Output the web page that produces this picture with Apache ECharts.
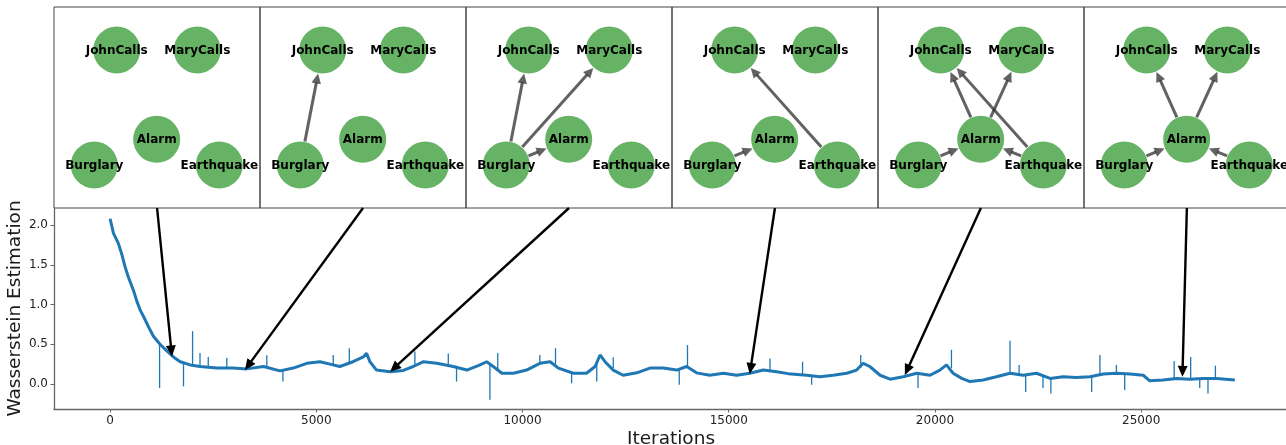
<!DOCTYPE html>
<html><head><meta charset="utf-8">
<script src="https://cdn.jsdelivr.net/npm/echarts@6/dist/echarts.min.js"></script>
<style>html,body{margin:0;padding:0;background:#fff}#c{width:1286px;height:445px}</style>
</head><body><div id="c"></div>
<script>
// ---- data ----
const iterations = [
  0, 25, 80, 200, 280, 360, 440, 565, 650, 730,
  810, 930, 1050, 1210, 1370, 1535, 1700, 1940, 2180, 2590,
  2990, 3310, 3720, 4120, 4440, 4770, 5090, 5330, 5570, 5890,
  6140, 6220, 6300, 6460, 6790, 7110, 7350, 7600, 7920, 8320,
  8650, 8970, 9130, 9290, 9500, 9780, 10100, 10420, 10670, 10870,
  11230, 11550, 11760, 11880, 12000, 12200, 12440, 12770, 13090, 13410,
  13740, 13980, 14220, 14540, 14870, 15190, 15510, 15840, 16160, 16440,
  16890, 17210, 17530, 17860, 18100, 18260, 18420, 18670, 18910, 19230,
  19560, 19880, 20120, 20280, 20440, 20650, 20850, 21170, 21490, 21820,
  22140, 22460, 22790, 23110, 23430, 23760, 24080, 24400, 24730, 25050,
  25210, 25530, 25860, 26180, 26500, 26830, 27270
];
const wasserstein = [
  2.08, 2.06, 1.9, 1.77, 1.64, 1.48, 1.35, 1.18, 1.04, 0.93,
  0.85, 0.72, 0.6, 0.5, 0.42, 0.34, 0.28, 0.24, 0.22, 0.2,
  0.2, 0.19, 0.22, 0.165, 0.2, 0.26, 0.28, 0.25, 0.22, 0.28,
  0.34, 0.385, 0.28, 0.175, 0.155, 0.17, 0.22, 0.28, 0.26, 0.22,
  0.175, 0.24, 0.28, 0.22, 0.135, 0.135, 0.175, 0.26, 0.28, 0.2,
  0.135, 0.135, 0.22, 0.365, 0.28, 0.175, 0.11, 0.14, 0.2, 0.2,
  0.175, 0.22, 0.14, 0.11, 0.135, 0.11, 0.135, 0.175, 0.155, 0.13,
  0.11, 0.09, 0.11, 0.135, 0.175, 0.26, 0.22, 0.11, 0.06, 0.09,
  0.135, 0.11, 0.175, 0.24, 0.135, 0.07, 0.03, 0.05, 0.09, 0.135,
  0.11, 0.135, 0.07, 0.09, 0.08, 0.09, 0.125, 0.135, 0.125, 0.11,
  0.04, 0.05, 0.07, 0.06, 0.07, 0.07, 0.05
];
// isolated single-sample spikes: iteration, band level, spike tip
const spikeIters = [1200, 1780, 2000, 2180, 2380, 2830, 3800, 4190, 5410, 5800,
  7390, 8200, 8400, 9210, 9400, 10420, 10800, 11190, 11800, 12200,
  13800, 14000, 16000, 16790, 17010, 18200, 19590, 20400, 21820, 22040,
  22200, 22620, 22810, 23800, 24000, 24400, 24600, 25800, 26200, 26420,
  26620, 26800];
const spikeBase = [0.5, 0.27, 0.23, 0.22, 0.21, 0.2, 0.21, 0.17, 0.24, 0.25,
  0.22, 0.23, 0.21, 0.25, 0.18, 0.26, 0.22, 0.14, 0.25, 0.2,
  0.18, 0.2, 0.16, 0.11, 0.1, 0.2, 0.13, 0.2, 0.13, 0.12,
  0.11, 0.1, 0.07, 0.09, 0.11, 0.13, 0.13, 0.07, 0.06, 0.07,
  0.07, 0.07];
const spikeTip = [-0.05, -0.03, 0.665, 0.39, 0.34, 0.33, 0.36, 0.03, 0.365, 0.45,
  0.41, 0.385, 0.03, -0.2, 0.39, 0.365, 0.45, 0.01, 0.03, 0.335,
  -0.01, 0.49, 0.32, 0.28, -0.01, 0.365, -0.05, 0.43, 0.545, 0.24,
  -0.1, -0.05, -0.12, -0.1, 0.365, 0.24, -0.075, 0.29, 0.34, -0.05,
  -0.12, 0.23];
const xTicks = [0, 5000, 10000, 15000, 20000, 25000];
const yTicks = [0, 0.5, 1, 1.5, 2];
const xRange = [-1360, 28560];
const yRange = [-0.315, 2.215];

// snapshots of the learned network
const nodeNames = ['JohnCalls', 'MaryCalls', 'Alarm', 'Burglary', 'Earthquake'];
const nodeX = [62.7, 143.3, 102.7, 40.3, 165.3];   // panel units (0..206)
const nodeY = [43, 43, 132.3, 158, 158];           // panel units (0..201, downwards)
const panelEdges = [
  [],
  [['Burglary', 'JohnCalls']],
  [['Burglary', 'JohnCalls'], ['Burglary', 'MaryCalls'], ['Burglary', 'Alarm']],
  [['Burglary', 'Alarm'], ['Earthquake', 'JohnCalls']],
  [['Burglary', 'Alarm'], ['Earthquake', 'Alarm'], ['Alarm', 'JohnCalls'], ['Alarm', 'MaryCalls'], ['Earthquake', 'JohnCalls']],
  [['Burglary', 'Alarm'], ['Earthquake', 'Alarm'], ['Alarm', 'JohnCalls'], ['Alarm', 'MaryCalls']]
];
// annotation arrows: from the bottom of each panel to a point on the curve
const arrowFromIter = [1139, 6133, 11127, 16120, 21114, 26108];
const arrowToIter = [1500, 3270, 6790, 15510, 19270, 26000];
const arrowToValue = [0.345, 0.176, 0.155, 0.126, 0.113, 0.09];

// ---- chart ----
const FONT = 'DejaVu Sans';
const NODE_R = 23.5;
const PANEL_W = 206, PANEL_H = 201, PANEL_LEFT = 54, PANEL_TOP = 7;

function arrowShapes(p0, p1, headLen, headHalf, color, width) {
  const dx = p1[0] - p0[0], dy = p1[1] - p0[1];
  const L = Math.hypot(dx, dy) || 1;
  const ux = dx / L, uy = dy / L;
  const bx = p1[0] - ux * headLen, by = p1[1] - uy * headLen;
  return [
    { type: 'line', shape: { x1: p0[0], y1: p0[1], x2: bx + ux * 1, y2: by + uy * 1 },
      style: { stroke: color, lineWidth: width } },
    { type: 'polygon', shape: { points: [[p1[0], p1[1]], [bx - uy * headHalf, by + ux * headHalf], [bx + uy * headHalf, by - ux * headHalf]] },
      style: { fill: color } }
  ];
}

const grids = [{ left: 54, top: 208, width: 1234, height: 201, containLabel: false, outerBoundsMode: 'none' }];
const xAxes = [{
  type: 'value', gridIndex: 0, min: xRange[0], max: xRange[1],
  name: 'Iterations', nameLocation: 'middle', nameGap: 21, nameMoveOverlap: false,
  nameTextStyle: { fontSize: 18.5, color: '#1a1a1a', fontFamily: FONT },
  axisLine: { show: true, onZero: false, lineStyle: { color: '#666', width: 1.3 } },
  axisTick: { show: true, length: 3.5, lineStyle: { color: '#666' }, customValues: xTicks },
  axisLabel: { fontSize: 12, color: '#222', margin: 6, fontFamily: FONT, customValues: xTicks, formatter: v => String(v) },
  splitLine: { show: false }
}];
const yAxes = [{
  type: 'value', gridIndex: 0, min: yRange[0], max: yRange[1],
  name: 'Wasserstein Estimation', nameLocation: 'middle', nameGap: 29, nameRotate: 90, nameMoveOverlap: false,
  nameTextStyle: { fontSize: 18.5, color: '#1a1a1a', fontFamily: FONT },
  axisLine: { show: true, onZero: false, lineStyle: { color: '#666', width: 1.3 } },
  axisTick: { show: true, length: 3.5, lineStyle: { color: '#666' }, customValues: yTicks },
  axisLabel: { fontSize: 12, color: '#222', margin: 6, fontFamily: FONT, customValues: yTicks, formatter: v => v.toFixed(1) },
  splitLine: { show: false }
}];

const series = [];
series.push({
  type: 'line', xAxisIndex: 0, yAxisIndex: 0, z: 2,
  data: iterations.map((it, i) => [it, wasserstein[i]]),
  showSymbol: false, symbol: 'none', smooth: false,
  lineStyle: { color: '#1f77b4', width: 3 }, silent: true
});
series.push({
  type: 'custom', xAxisIndex: 0, yAxisIndex: 0, z: 3, clip: false,
  data: spikeIters.map((it, i) => [it, spikeBase[i], spikeTip[i]]),
  encode: { x: 0, y: [1, 2] },
  renderItem: (params, api) => {
    const a = api.coord([api.value(0), api.value(1)]);
    const b = api.coord([api.value(0), api.value(2)]);
    return { type: 'line', shape: { x1: a[0], y1: a[1], x2: b[0], y2: b[1] }, style: { stroke: '#1f77b4', lineWidth: 1.3 } };
  }
});
series.push({
  type: 'custom', xAxisIndex: 0, yAxisIndex: 0, z: 10, clip: false,
  data: arrowToIter.map((it, i) => [arrowFromIter[i], yRange[1], it, arrowToValue[i]]),
  encode: { x: [0, 2], y: [1, 3] },
  renderItem: (params, api) => {
    const p0 = api.coord([api.value(0), api.value(1)]);
    const p1 = api.coord([api.value(2), api.value(3)]);
    return { type: 'group', children: arrowShapes(p0, p1, 11, 5, '#000', 2.4) };
  }
});

panelEdges.forEach((edges, k) => {
  const gi = k + 1;
  grids.push({ left: PANEL_LEFT + PANEL_W * k, top: PANEL_TOP, width: PANEL_W, height: PANEL_H,
    show: true, borderColor: '#444', borderWidth: 1, backgroundColor: 'transparent', outerBoundsMode: 'none' });
  xAxes.push({ type: 'value', gridIndex: gi, min: 0, max: PANEL_W, show: false });
  yAxes.push({ type: 'value', gridIndex: gi, min: 0, max: PANEL_H, inverse: true, show: false });
  if (edges.length) {
    series.push({
      type: 'custom', xAxisIndex: gi, yAxisIndex: gi, z: 4, clip: false,
      data: edges.map(([s, t]) => {
        const a = nodeNames.indexOf(s), b = nodeNames.indexOf(t);
        return [nodeX[a], nodeY[a], nodeX[b], nodeY[b]];
      }),
      encode: { x: [0, 2], y: [1, 3] },
      renderItem: (params, api) => {
        const c0 = api.coord([api.value(0), api.value(1)]);
        const c1 = api.coord([api.value(2), api.value(3)]);
        const r = api.size([NODE_R, 0])[0] + 0.5;
        const dx = c1[0] - c0[0], dy = c1[1] - c0[1], L = Math.hypot(dx, dy);
        const ux = dx / L, uy = dy / L;
        const p0 = [c0[0] + ux * r, c0[1] + uy * r];
        const p1 = [c1[0] - ux * r, c1[1] - uy * r];
        return { type: 'group', children: arrowShapes(p0, p1, 10, 4.8, 'rgba(45,45,45,0.75)', 3) };
      }
    });
  }
  series.push({
    type: 'custom', xAxisIndex: gi, yAxisIndex: gi, z: 6, clip: false,
    data: nodeX.map((x, i) => [x, nodeY[i]]),
    renderItem: (params, api) => {
      const p = api.coord([api.value(0), api.value(1)]);
      const r = api.size([NODE_R, 0])[0];
      return { type: 'group', children: [
        { type: 'circle', shape: { cx: p[0], cy: p[1], r: r }, style: { fill: '#66b366' } },
        { type: 'text', z2: 10, style: { text: nodeNames[params.dataIndex], x: p[0], y: p[1] + 0.5,
          align: 'center', verticalAlign: 'middle', fontSize: 12, fontWeight: 'bold', fontFamily: FONT, fill: '#000' } }
      ] };
    }
  });
});

const chart = echarts.init(document.getElementById('c'), null, { renderer: 'canvas' });
chart.setOption({
  animation: false,
  backgroundColor: '#fff',
  textStyle: { fontFamily: FONT },
  grid: grids, xAxis: xAxes, yAxis: yAxes, series: series
});
</script>
</body></html>
